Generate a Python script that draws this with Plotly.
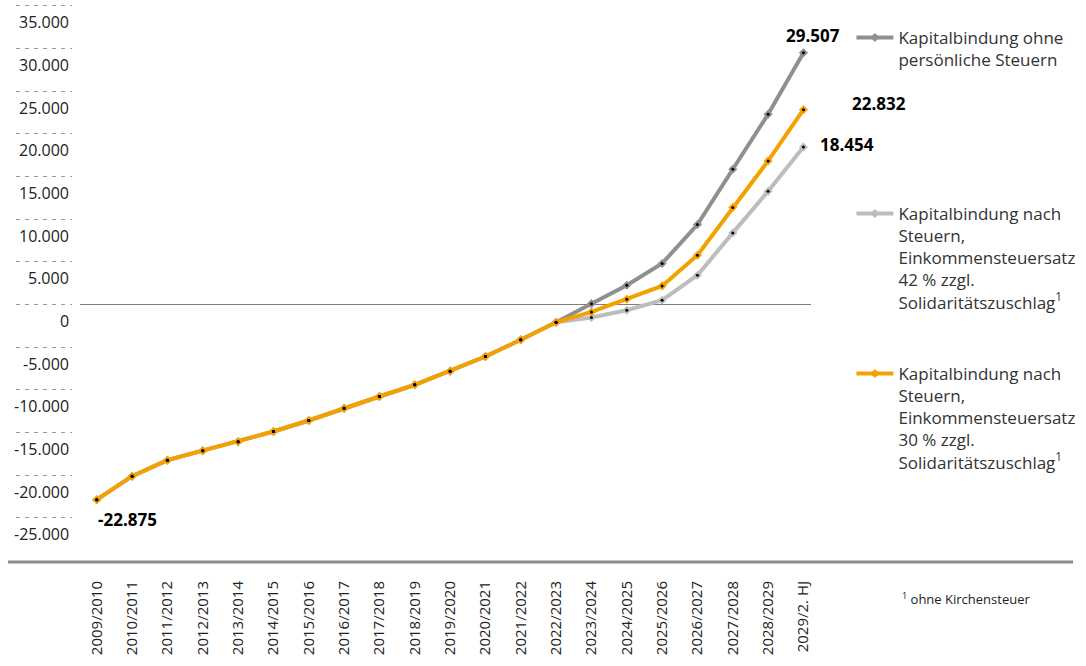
import plotly.graph_objects as go

# ---------------- data ----------------
categories = ["2009/2010", "2010/2011", "2011/2012", "2012/2013", "2013/2014",
              "2014/2015", "2015/2016", "2016/2017", "2017/2018", "2018/2019",
              "2019/2020", "2020/2021", "2021/2022", "2022/2023", "2023/2024",
              "2024/2025", "2025/2026", "2026/2027", "2027/2028", "2028/2029",
              "2029/2. HJ"]

ohne_steuern = [-22875, -20120, -18245, -17145, -16090, -14882, -13593, -12152,
                -10781, -9410, -7808, -6094, -4137, -2086, 100, 2262, 4804,
                9374, 15855, 22300, 29507]
steuer_42 = [-22875, -20120, -18245, -17145, -16090, -14882, -13593, -12152,
             -10781, -9410, -7808, -6094, -4137, -2086, -1523, -668, 504,
             3434, 8391, 13277, 18454]
steuer_30 = [-22875, -20120, -18245, -17145, -16090, -14882, -13593, -12152,
             -10781, -9410, -7808, -6094, -4137, -2086, -867, 621, 2180,
             5777, 11367, 16828, 22832]

ytick_vals = [35000, 30000, 25000, 20000, 15000, 10000, 5000, 0,
              -5000, -10000, -15000, -20000, -25000]
ytick_text = ["35.000", "30.000", "25.000", "20.000", "15.000", "10.000",
              "5.000", "0", "-5.000", "-10.000", "-15.000", "-20.000", "-25.000"]

names = ["Kapitalbindung ohne<br>persönliche Steuern",
         "Kapitalbindung nach<br>Steuern,<br>Einkommensteuersatz<br>42 % zzgl.<br>Solidaritätszuschlag<sup>1</sup>",
         "Kapitalbindung nach<br>Steuern,<br>Einkommensteuersatz<br>30 % zzgl.<br>Solidaritätszuschlag<sup>1</sup>"]
footnote = "<sup>1</sup> ohne Kirchensteuer"

# ---------------- style ----------------
W, H = 1086, 666
PLOT_B = 562
FONT = "Open Sans"
TXT = "#222222"
colors = ["#8e908f", "#bdbdbd", "#f4a100"]
Y_RANGE = [-30177, 35685]


def px(xp):
    return xp / W


def py(yp):
    return (PLOT_B - yp) / PLOT_B


fig = go.Figure()
series = [ohne_steuern, steuer_42, steuer_30]
legends = ["legend", "legend2", "legend3"]
for name, vals, col, lg in zip(names, series, colors, legends):
    fig.add_trace(go.Scatter(
        x=categories, y=vals, name=name, legend=lg,
        mode="lines+markers",
        line=dict(color=col, width=4),
        marker=dict(symbol="diamond", size=7, color=col),
        hoverinfo="skip"))
for vals in series:
    fig.add_trace(go.Scatter(
        x=categories, y=vals, mode="markers",
        marker=dict(color="black", size=3),
        showlegend=False, hoverinfo="skip"))

# helper subplot for the dashed tick marks on the left
fig.add_trace(go.Scatter(x=[0.5], y=[0], xaxis="x2", yaxis="y2",
                         mode="markers", marker=dict(opacity=0),
                         showlegend=False, hoverinfo="skip"))

annotations = []
for v, t in zip(ytick_vals, ytick_text):
    annotations.append(dict(x=px(71), xref="paper", y=v, yref="y",
                            text=t, showarrow=False, xanchor="right",
                            yanchor="middle", yshift=-16.5,
                            font=dict(family=FONT, size=16, color=TXT)))

bold = dict(family=FONT, size=17, color="#000000")
annotations += [
    dict(x=categories[-1], y=ohne_steuern[-1], text="<b>29.507</b>",
         showarrow=False, xanchor="center", yanchor="middle",
         xshift=10, yshift=17, font=bold),
    dict(x=categories[-1], y=steuer_30[-1], text="<b>22.832</b>",
         showarrow=False, xanchor="left", yanchor="middle",
         xshift=47, yshift=6, font=bold),
    dict(x=categories[-1], y=steuer_42[-1], text="<b>18.454</b>",
         showarrow=False, xanchor="left", yanchor="middle",
         xshift=15, yshift=3, font=bold),
    dict(x=categories[0], y=ohne_steuern[0], text="<b>-22.875</b>",
         showarrow=False, xanchor="left", yanchor="middle",
         xshift=-1, yshift=-20, font=bold),
    dict(x=px(902), xref="paper", y=py(598), yref="paper", text=footnote,
         showarrow=False, xanchor="left", yanchor="middle",
         font=dict(family=FONT, size=13, color=TXT)),
]

legend_font = dict(family=FONT, size=17, color="#333333")


def legend_cfg(top_px):
    return dict(x=px(853), y=py(top_px), xanchor="left", yanchor="top",
                font=legend_font, bgcolor="rgba(0,0,0,0)", borderwidth=0,
                valign="top", itemwidth=37)


fig.update_layout(
    width=W, height=H,
    margin=dict(l=0, r=0, t=0, b=H - PLOT_B),
    paper_bgcolor="white", plot_bgcolor="white",
    showlegend=True,
    legend=legend_cfg(20),
    legend2=legend_cfg(196),
    legend3=legend_cfg(356),
    xaxis=dict(type="category", domain=[80 / W, 812 / W],
               range=[-0.48, 20.2], tickangle=-90,
               showgrid=False, zeroline=False, showline=False,
               ticks="outside", ticklen=12, tickcolor="rgba(0,0,0,0)",
               tickfont=dict(family=FONT, size=15, color=TXT),
               fixedrange=True),
    yaxis=dict(range=Y_RANGE, showgrid=False, showticklabels=False,
               zeroline=True, zerolinecolor="#7d7d7d", zerolinewidth=1,
               ticks="", fixedrange=True),
    xaxis2=dict(domain=[16 / W, 72 / W], anchor="y2", range=[0, 1],
                showgrid=False, zeroline=False, showticklabels=False,
                showline=False, ticks=""),
    yaxis2=dict(anchor="x2", range=Y_RANGE, tickvals=ytick_vals,
                showgrid=True, griddash="4px,5px", gridcolor="#9c9c9c",
                gridwidth=1, zeroline=False, showticklabels=False,
                showline=False, ticks=""),
    annotations=annotations,
    shapes=[dict(type="line", xref="paper", yref="paper",
                 x0=px(8), x1=px(1075), y0=0, y1=0,
                 line=dict(color="#8a8a8a", width=3))],
)

fig.write_html("out.html")
